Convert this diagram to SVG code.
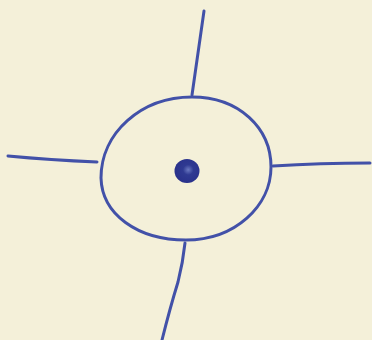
<svg xmlns="http://www.w3.org/2000/svg" width="372" height="340" viewBox="0 0 372 340">
  <defs>
    <style>
      .ink { fill: none; stroke: #4251a8; stroke-width: 3; stroke-linecap: round; stroke-linejoin: round; }
    </style>
    <radialGradient id="dotg" cx="0.55" cy="0.45" r="0.6">
      <stop offset="0" stop-color="#6a78c0"/>
      <stop offset="0.35" stop-color="#2f3a92"/>
      <stop offset="1" stop-color="#28308a"/>
    </radialGradient>
  </defs>
  <rect x="0" y="0" width="372" height="340" fill="#f4f0d9"/>
  <g id="circle">
    <path class="ink" d="M 192 97 C 239 97, 271 128, 271 167 C 271 206, 235 240, 186 240 C 137 240, 102 214, 101 178 C 101 133, 141 97, 192 97 Z"/>
  </g>
  <g id="dot">
    <ellipse cx="187" cy="171" rx="12.5" ry="12" fill="url(#dotg)"/>
  </g>
  <g id="connectors">
    <path class="ink" d="M 204 11 Q 198 52, 192 95"/>
    <path class="ink" d="M 8 156 Q 50 160, 97 162"/>
    <path class="ink" d="M 273 166 Q 320 163, 370 163"/>
    <path class="ink" d="M 185 243 Q 183 262, 178 282 Q 170 308, 162 340"/>
  </g>
</svg>
